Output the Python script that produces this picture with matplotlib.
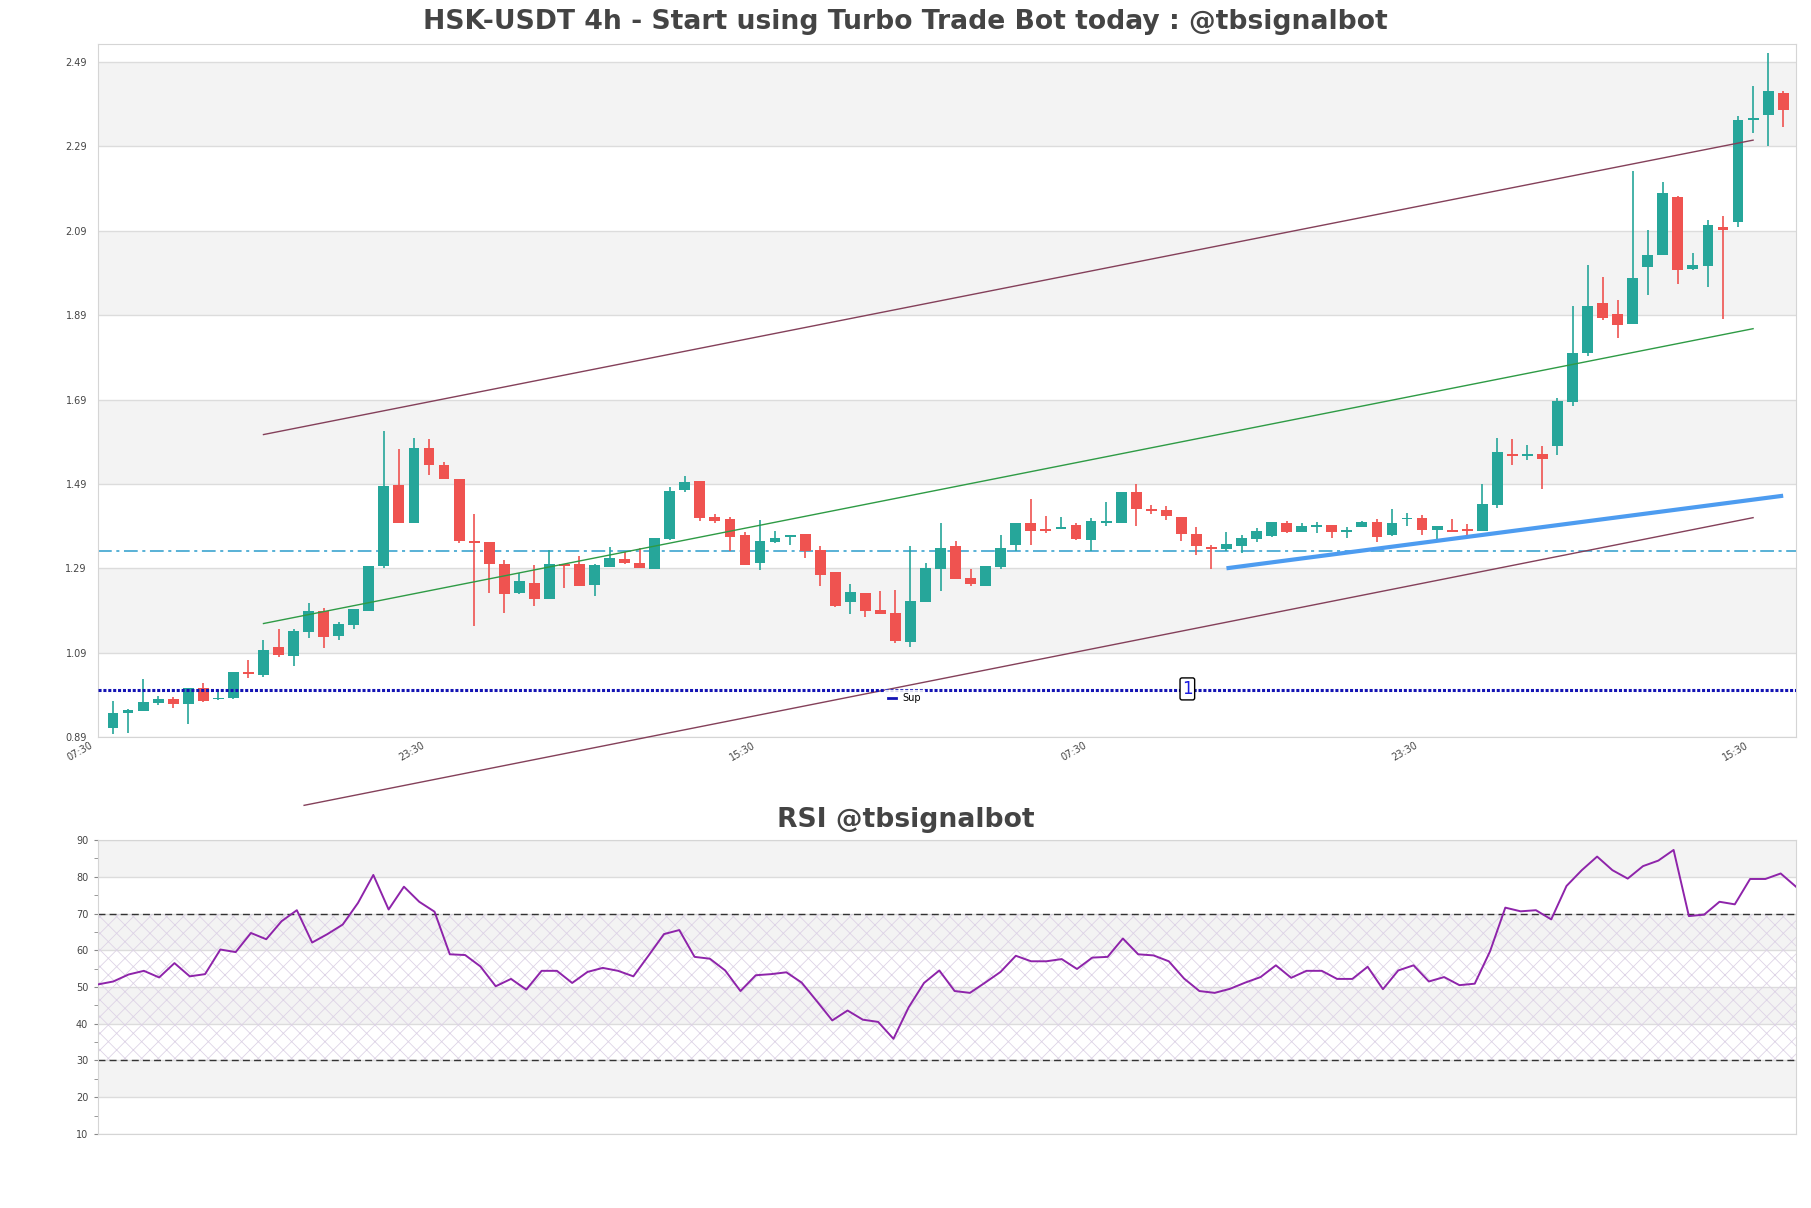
import matplotlib
matplotlib.use("Agg")
import matplotlib.pyplot as plt
from matplotlib.lines import Line2D
import matplotlib.transforms as mtransforms
import numpy as np

# ---------------- data ----------------
opens = [0.912,0.948,0.952,0.971,0.981,0.969,1.005,0.979,0.983,1.042,1.037,1.104,1.082,1.139,1.189,1.130,1.155,1.189,1.296,1.488,
         1.398,1.575,1.535,1.502,1.355,1.352,1.300,1.232,1.254,1.216,1.299,1.300,1.251,1.292,1.311,1.302,1.288,1.359,1.475,1.496,
         1.411,1.407,1.369,1.303,1.353,1.365,1.372,1.334,1.280,1.211,1.232,1.190,1.185,1.116,1.211,1.288,1.343,1.268,1.249,1.294,
         1.345,1.398,1.381,1.383,1.393,1.356,1.398,1.398,1.470,1.429,1.429,1.411,1.372,1.339,1.336,1.344,1.360,1.367,1.398,1.377,
         1.387,1.393,1.377,1.387,1.399,1.369,1.406,1.410,1.381,1.379,1.381,1.379,1.440,1.562,1.557,1.562,1.581,1.684,1.801,1.920,
         1.894,1.870,2.004,2.033,2.171,1.999,2.007,2.098,2.111,2.352,2.365,2.417]
highs = [0.975,0.956,1.027,0.987,0.985,1.005,1.017,1.001,1.043,1.072,1.120,1.147,1.145,1.208,1.197,1.162,1.193,1.295,1.615,1.573,
         1.599,1.597,1.543,1.502,1.419,1.352,1.310,1.278,1.298,1.334,1.300,1.319,1.300,1.341,1.329,1.337,1.361,1.482,1.509,1.497,
         1.418,1.411,1.375,1.405,1.379,1.369,1.372,1.343,1.282,1.253,1.232,1.236,1.238,1.343,1.302,1.398,1.355,1.288,1.296,1.369,
         1.398,1.455,1.414,1.411,1.397,1.409,1.448,1.472,1.490,1.440,1.438,1.411,1.387,1.345,1.375,1.369,1.385,1.399,1.401,1.398,
         1.399,1.393,1.389,1.401,1.407,1.431,1.421,1.417,1.391,1.407,1.395,1.490,1.599,1.596,1.583,1.581,1.694,1.912,2.008,1.981,
         1.925,2.231,2.091,2.205,2.173,2.037,2.115,2.124,2.362,2.433,2.511,2.421]
lows = [0.898,0.900,0.952,0.967,0.959,0.922,0.973,0.977,0.979,1.030,1.033,1.080,1.058,1.125,1.100,1.120,1.147,1.189,1.290,1.398,
        1.398,1.510,1.501,1.349,1.154,1.231,1.183,1.228,1.201,1.216,1.244,1.249,1.225,1.292,1.299,1.290,1.288,1.356,1.472,1.403,
        1.397,1.331,1.298,1.286,1.349,1.345,1.315,1.249,1.199,1.181,1.175,1.182,1.112,1.104,1.211,1.237,1.264,1.249,1.249,1.288,
        1.331,1.345,1.373,1.383,1.356,1.331,1.391,1.397,1.391,1.419,1.405,1.355,1.322,1.288,1.332,1.326,1.352,1.365,1.373,1.377,
        1.373,1.361,1.361,1.387,1.353,1.367,1.391,1.369,1.357,1.377,1.369,1.379,1.432,1.534,1.546,1.479,1.558,1.674,1.793,1.878,
        1.835,1.870,1.938,2.033,1.963,1.996,1.958,1.882,2.100,2.321,2.292,2.335]
closes = [0.948,0.955,0.972,0.981,0.968,1.005,0.976,0.981,1.043,1.039,1.096,1.084,1.141,1.189,1.128,1.157,1.193,1.295,1.486,1.398,
          1.575,1.534,1.501,1.355,1.351,1.300,1.228,1.260,1.216,1.300,1.296,1.249,1.298,1.315,1.303,1.290,1.361,1.474,1.495,1.410,
          1.403,1.365,1.298,1.355,1.361,1.369,1.331,1.274,1.200,1.233,1.189,1.182,1.118,1.212,1.290,1.337,1.264,1.253,1.296,1.337,
          1.398,1.379,1.379,1.387,1.360,1.401,1.401,1.470,1.431,1.426,1.413,1.372,1.343,1.336,1.348,1.361,1.379,1.399,1.375,1.391,
          1.393,1.377,1.379,1.399,1.365,1.397,1.410,1.381,1.391,1.377,1.379,1.443,1.565,1.557,1.561,1.548,1.686,1.801,1.912,1.884,
          1.867,1.979,2.032,2.179,1.997,2.009,2.103,2.092,2.353,2.357,2.421,2.377]

rsi = [50.7,51.5,53.4,54.4,52.6,56.5,52.9,53.5,60.2,59.5,64.7,63.0,67.9,70.9,62.1,64.4,67.0,72.9,80.5,71.1,
       77.3,73.2,70.5,58.9,58.7,55.6,50.2,52.2,49.3,54.4,54.4,51.1,54.1,55.2,54.4,52.9,58.6,64.4,65.5,58.2,
       57.7,54.5,48.9,53.2,53.5,54.0,51.2,46.1,40.9,43.6,41.1,40.5,35.9,44.5,51.1,54.5,48.9,48.4,51.2,54.1,
       58.5,57.0,57.0,57.6,54.9,58.0,58.2,63.2,58.9,58.6,57.0,52.3,48.9,48.4,49.5,51.2,52.7,55.9,52.5,54.4,
       54.4,52.2,52.2,55.5,49.4,54.5,55.9,51.5,52.7,50.5,50.9,59.7,71.6,70.6,70.9,68.4,77.5,81.8,85.5,81.8,
       79.5,82.9,84.4,87.3,69.3,69.7,73.2,72.5,79.4,79.4,80.9,77.3]

xtick_pos = [-1, 21, 43, 65, 87, 109]
xtick_labels = ["07:30", "23:30", "15:30", "07:30", "23:30", "15:30"]
ytick_vals = [0.89, 1.09, 1.29, 1.49, 1.69, 1.89, 2.09, 2.29, 2.49]

upper_line_x = [10, 109]; upper_line_y = [1.607, 2.305]
mid_line_x = [10, 109];   mid_line_y = [1.159, 1.858]
lower_line_x = [12.7, 109]; lower_line_y = [0.728, 1.410]
support_trend_x = [74, 111]; support_trend_y = [1.290, 1.462]
pivot_level = 1.331
sup_level = 1.001
marker_x, marker_y, marker_text = 71.4, 1.004, "1"

# ---------------- figure ----------------
plt.rcParams["hatch.linewidth"] = 0.6
fig = plt.figure(figsize=(18.11, 12.08), dpi=100)
ax = fig.add_axes([0.0541, 0.3899, 0.9376, 0.5737])
ax2 = fig.add_axes([0.0541, 0.0613, 0.9376, 0.2433])

GREEN = "#26a69a"
RED = "#ef5350"
BAND = "#f3f3f3"
GRID = "#dcdcdc"
SPINE = "#d5d5d5"
TXT = "#444444"

# bands
for lo in [1.09, 1.49, 1.89, 2.29]:
    ax.axhspan(lo, lo + 0.2, color=BAND, zorder=0, lw=0)
for v in ytick_vals:
    ax.axhline(v, color=GRID, lw=1, zorder=0.5)

x = np.arange(len(opens))
o = np.array(opens); h = np.array(highs); l = np.array(lows); c = np.array(closes)
up = c >= o
cols = np.where(up, GREEN, RED)
ax.vlines(x, l, h, colors=cols, lw=1.2, zorder=3)
bottoms = np.minimum(o, c)
heights = np.maximum(np.abs(c - o), 0.004)
ax.bar(x, heights, bottom=bottoms, width=0.72, color=cols, zorder=4, lw=0)

# overlay lines
ax.plot(upper_line_x, upper_line_y, color="#84405a", lw=1, zorder=5)
ax.plot(mid_line_x, mid_line_y, color="#2e9b45", lw=1, zorder=5)
ax.plot(lower_line_x, lower_line_y, color="#84405a", lw=1, zorder=5, clip_on=False)
ax.plot(support_trend_x, support_trend_y, color="#4d9cf0", lw=3, zorder=6, solid_capstyle="butt")
ax.axhline(pivot_level, color="#2b9ccc", lw=1.1, ls=(0, (9, 3, 2, 3)), zorder=2)
ax.plot([-1, 112], [sup_level, sup_level], color="#1414b4", lw=2.2, ls=(0, (1, 0.6)), zorder=5)
ax.text(marker_x, marker_y, marker_text, color="#1a1ae0", fontsize=12, ha="center", va="center", zorder=8,
        bbox=dict(boxstyle="round,pad=0.12", fc="white", ec="black", lw=1))

leg = ax.legend(handles=[Line2D([], [], color="#1414b4", lw=2)], labels=["Sup"], loc="center",
                bbox_to_anchor=(0.475, 0.056), frameon=True, fontsize=7, handlelength=0.8,
                borderpad=0.3, handletextpad=0.6, fancybox=False)
leg.get_frame().set_facecolor("white")
leg.get_frame().set_edgecolor("white")
leg.set_zorder(7)

ax.set_xlim(-0.97, 111.85)
ax.set_ylim(0.89, 2.533)
ax.set_yticks(ytick_vals)
ax.set_yticklabels([f"{v:.2f}" for v in ytick_vals], fontsize=7, color=TXT)
ax.set_xticks(xtick_pos)
ax.set_xticklabels(xtick_labels, fontsize=7, color=TXT, rotation=30, ha="right", rotation_mode="anchor")
ax.tick_params(axis="x", length=0, pad=2.5)
ax.tick_params(axis="y", length=0, pad=8)
shift = mtransforms.ScaledTranslation(-0.08, 0, fig.dpi_scale_trans)
for lab in ax.get_xticklabels():
    lab.set_transform(lab.get_transform() + shift)
for s in ax.spines.values():
    s.set_color(SPINE)

fig.text(0.5, 0.982, "HSK-USDT 4h - Start using Turbo Trade Bot today : @tbsignalbot",
         ha="center", va="center", fontsize=19.2, fontweight="bold", color=TXT)

# ---------------- RSI ----------------
for lo in [20, 40, 60, 80]:
    ax2.axhspan(lo, lo + 10, color=BAND, zorder=0, lw=0)
for v in range(10, 91, 10):
    ax2.axhline(v, color=GRID, lw=1, zorder=0.5)
ax2.fill_between([0, 111], 30, 70, facecolor="none", edgecolor="#ddd3e6", hatch="xx", lw=0, zorder=1)
ax2.axhline(70, color="#333333", lw=1, ls=(0, (5, 3)), zorder=2)
ax2.axhline(30, color="#333333", lw=1, ls=(0, (5, 3)), zorder=2)
ax2.plot(np.arange(len(rsi)), rsi, color="#8e24aa", lw=1.4, zorder=3)
ax2.set_xlim(0, 111)
ax2.set_ylim(10, 90)
ax2.set_yticks(range(10, 91, 10))
ax2.set_yticks(range(15, 90, 10), minor=True)
ax2.set_yticklabels([str(v) for v in range(10, 91, 10)], fontsize=7, color=TXT)
ax2.set_xticks([])
ax2.tick_params(axis="y", which="both", length=3, color="#888888", pad=4)
for s in ax2.spines.values():
    s.set_color(SPINE)

fig.text(0.5, 0.321, "RSI @tbsignalbot", ha="center", va="center", fontsize=19.2, fontweight="bold", color=TXT)

fig.savefig("out.png", dpi=100)
